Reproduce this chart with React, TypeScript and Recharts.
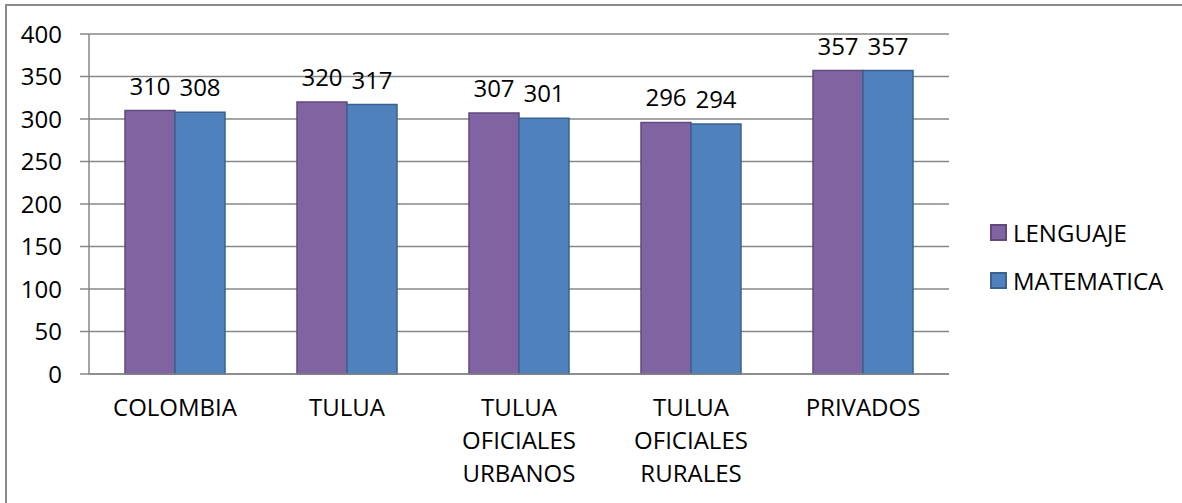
import React from "react";
import {
  Bar,
  BarChart,
  CartesianGrid,
  LabelList,
  Legend,
  XAxis,
  YAxis,
} from "recharts";

const categories = [
  "COLOMBIA",
  "TULUA",
  "TULUA OFICIALES URBANOS",
  "TULUA OFICIALES RURALES",
  "PRIVADOS",
];
const lenguaje = [310, 320, 307, 296, 357];
const matematica = [308, 317, 301, 294, 357];
const yTicks = [0, 50, 100, 150, 200, 250, 300, 350, 400];

const data = categories.map((name, i) => ({
  name,
  lenguaje: lenguaje[i],
  matematica: matematica[i],
}));

// boundaries between the categories, used for the tick marks on the x axis
const boundaryTicks = categories.map((_, i) => i).concat(categories.length);

const FONT = "'Open Sans', sans-serif";
const GRID = "#878787";

const CategoryTick = ({ x, y, payload }: any) => {
  const lines = String(payload.value).split(" ");
  return (
    <text x={x} y={y} textAnchor="middle" fontSize={24} fontFamily={FONT} fill="#000">
      {lines.map((line, i) => (
        <tspan key={i} x={x} dy={i === 0 ? 33 : 33}>
          {line}
        </tspan>
      ))}
    </text>
  );
};

const LegendContent = ({ payload }: any) => (
  <div style={{ fontFamily: FONT, fontSize: 24, color: "#000" }}>
    {(payload || []).map((entry: any) => (
      <div
        key={entry.value}
        style={{ display: "flex", alignItems: "center", height: 48 }}
      >
        <span
          style={{
            display: "inline-block",
            width: 13,
            height: 13,
            background: entry.color,
            border: `2px solid ${entry.payload?.stroke ?? "#555"}`,
            marginRight: 6,
          }}
        />
        {entry.value}
      </div>
    ))}
  </div>
);

export default function App() {
  return (
    <div style={{ position: "absolute", left: 0, top: 0, width: 1182, height: 503, background: "#fff" }}>
      <div
        style={{
          position: "absolute",
          left: 5,
          top: 4,
          right: 0,
          bottom: 0,
          borderTop: "2px solid #8a8a8a",
          borderLeft: "2px solid #8a8a8a",
        }}
      />
      <BarChart
        width={1182}
        height={503}
        data={data}
        margin={{ top: 34, right: 233, bottom: 0, left: 0 }}
        barGap={0}
        barCategoryGap={36}
        style={{ fontFamily: FONT }}
      >
        <CartesianGrid vertical={false} stroke={GRID} strokeWidth={1.5} />
        <XAxis
          type="number"
          domain={[0, categories.length]}
          ticks={boundaryTicks}
          allowDataOverflow
          height={1}
          tick={false}
          tickSize={8}
          axisLine={{ stroke: GRID, strokeWidth: 1.5 }}
          tickLine={{ stroke: GRID, strokeWidth: 1.5 }}
        />
        <XAxis
          xAxisId="cat"
          dataKey="name"
          height={128}
          axisLine={false}
          tickLine={false}
          interval={0}
          tick={<CategoryTick />}
        />
        <YAxis
          width={89}
          domain={[0, 400]}
          ticks={yTicks}
          tickSize={9}
          tickMargin={18}
          axisLine={{ stroke: GRID, strokeWidth: 1.5 }}
          tickLine={{ stroke: GRID, strokeWidth: 1.5 }}
          tick={{ fill: "#000", fontSize: 24, fontFamily: FONT }}
        />
        <Legend
          layout="horizontal"
          verticalAlign="middle"
          align="center"
          wrapperStyle={{ left: 990, top: 208, width: 190 }}
          content={<LegendContent />}
        />
        <Bar
          xAxisId="cat"
          dataKey="lenguaje"
          name="LENGUAJE"
          fill="#8064A2"
          stroke="#5F4A7B"
          strokeWidth={1.5}
          isAnimationActive={false}
        >
          <LabelList dataKey="lenguaje" position="top" offset={16} fill="#000" fontSize={24} fontFamily={FONT} />
        </Bar>
        <Bar
          xAxisId="cat"
          dataKey="matematica"
          name="MATEMATICA"
          fill="#4F81BD"
          stroke="#3A6190"
          strokeWidth={1.5}
          isAnimationActive={false}
        >
          <LabelList dataKey="matematica" position="top" offset={16} fill="#000" fontSize={24} fontFamily={FONT} />
        </Bar>
      </BarChart>
    </div>
  );
}
